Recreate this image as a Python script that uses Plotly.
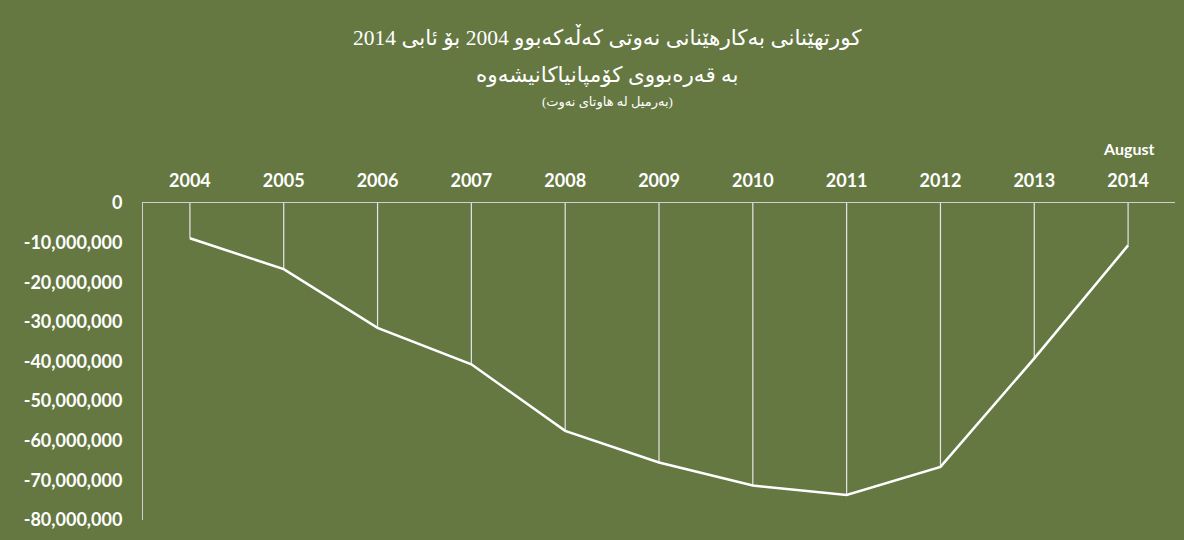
import plotly.graph_objects as go

years = ["2004", "2005", "2006", "2007", "2008", "2009", "2010", "2011", "2012", "2013", "2014"]
values = [-8.9e6, -16.7e6, -31.5e6, -40.7e6, -57.5e6, -65.5e6, -71.3e6, -73.7e6, -66.6e6, -39.2e6, -10.7e6]
y_ticks = [0, -10e6, -20e6, -30e6, -40e6, -50e6, -60e6, -70e6, -80e6]
y_ticktext = ["0", "-10,000,000", "-20,000,000", "-30,000,000", "-40,000,000",
              "-50,000,000", "-60,000,000", "-70,000,000", "-80,000,000"]
title1 = "کورتهێنانی بەکارهێنانی نەوتی کەڵەکەبوو 2004 بۆ ئابی 2014"
title2 = "بە قەرەبووی کۆمپانیاکانیشەوە"
title3 = "(بەرمیل لە هاوتای نەوت)"
month_note = "August"

BG = "#657842"

fig = go.Figure()
fig.add_trace(go.Scatter(
    x=years, y=values, mode="lines",
    line=dict(color="white", width=2.5),
    error_y=dict(type="data", symmetric=False,
                 array=[-v for v in values], arrayminus=[0] * len(values),
                 color="#e6e6e6", thickness=1.2, width=0),
    hoverinfo="x+y", showlegend=False,
))

tick_font = dict(family="Lato, Open Sans, sans-serif", size=18, color="white", weight="bold")

fig.update_layout(
    width=1184, height=540,
    paper_bgcolor=BG, plot_bgcolor=BG,
    margin=dict(l=143, r=9, t=203, b=20),
    xaxis=dict(type="category", side="top", range=[-0.5, 10.5],
               showgrid=False, zeroline=False,
               showline=True, linecolor="#d0d0d0", linewidth=1,
               ticks="", tickfont=tick_font, ticklabelstandoff=8),
    yaxis=dict(range=[-80e6, 0], tickvals=y_ticks, ticktext=y_ticktext,
               showgrid=False, zeroline=False,
               showline=True, linecolor="#d0d0d0", linewidth=1,
               ticks="", tickfont=tick_font, ticklabelstandoff=16),
    font=dict(color="white"),
)

title_font = "Liberation Serif, DejaVu Sans, serif"
fig.add_annotation(text=title1, xref="paper", yref="paper", x=0.45, y=1.524,
                   xanchor="center", yanchor="middle", showarrow=False,
                   font=dict(family=title_font, size=21.5, color="white"))
fig.add_annotation(text=title2, xref="paper", yref="paper", x=0.45, y=1.404,
                   xanchor="center", yanchor="middle", showarrow=False,
                   font=dict(family=title_font, size=21.5, color="white"))
fig.add_annotation(text=title3, xref="paper", yref="paper", x=0.45, y=1.319,
                   xanchor="center", yanchor="middle", showarrow=False,
                   font=dict(family=title_font, size=13, color="white"))
fig.add_annotation(text=month_note, xref="x", yref="paper", x=10, y=1.1735,
                   xanchor="center", yanchor="middle", showarrow=False,
                   font=dict(family="Lato, Open Sans, sans-serif", size=16, color="white", weight="bold"))

fig.write_html("out.html", config={"displayModeBar": False},
               post_script="document.body.style.margin='0';")
